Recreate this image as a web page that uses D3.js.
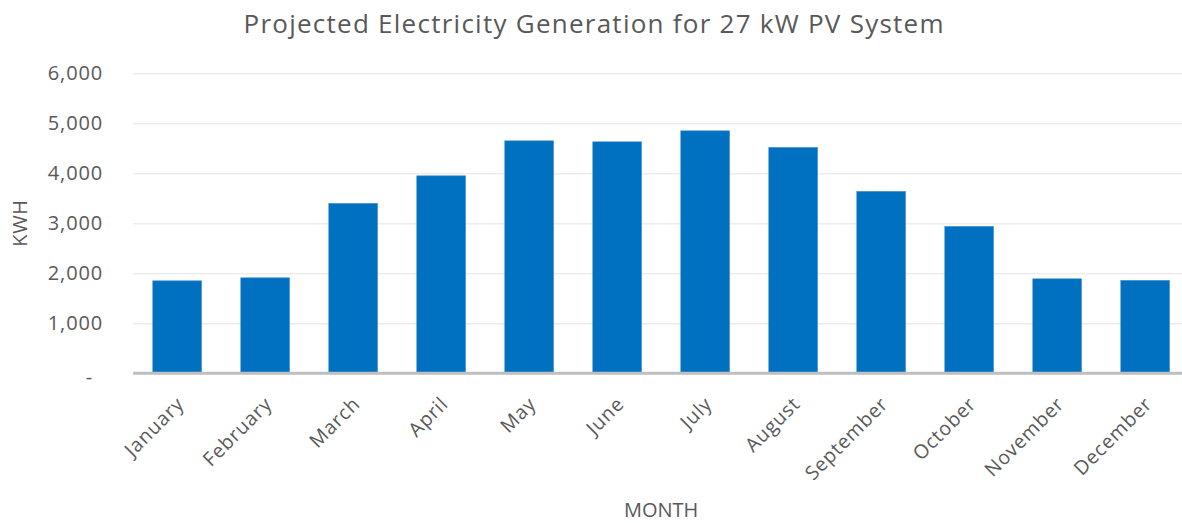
<!DOCTYPE html>
<html>
<head>
<meta charset="utf-8">
<script src="https://cdn.jsdelivr.net/npm/d3@7"></script>
<style>
  html, body { margin: 0; padding: 0; background: #fff; }
  svg { display: block; font-family: "Open Sans", sans-serif; }
</style>
</head>
<body>
<svg id="chart" width="1182" height="523"></svg>
<script>
const months = ["January", "February", "March", "April", "May", "June",
  "July", "August", "September", "October", "November", "December"];
const kwh = [1850, 1910, 3400, 3950, 4650, 4630, 4850, 4520, 3640, 2940, 1890, 1860];
const yTicks = [0, 1000, 2000, 3000, 4000, 5000, 6000];

const svg = d3.select("#chart");
const textColor = "#595959";

// plot area (right edge runs slightly past the window, as in the reference)
const plot = { left: 133.2, right: 1189.2, top: 73.3, bottom: 373.3 };

const x = d3.scaleBand().domain(months).range([plot.left, plot.right])
  .paddingInner(0.8 / 1.8).paddingOuter(0.4 / 1.8);
const y = d3.scaleLinear().domain([0, 6000]).range([plot.bottom, plot.top]);

// ---- Title ----
svg.append("text")
  .attr("x", 593.5).attr("y", 32.5)
  .attr("text-anchor", "middle")
  .attr("fill", textColor)
  .attr("font-size", 26)
  .attr("textLength", 700).attr("lengthAdjust", "spacing")
  .text("Projected Electricity Generation for 27 kW PV System");

// ---- Y axis with gridlines ----
const yAxis = svg.append("g")
  .attr("transform", `translate(${plot.left},0)`)
  .call(d3.axisLeft(y).tickValues(yTicks).tickSize(-(1182 - plot.left)).tickPadding(30)
    .tickFormat(d => d === 0 ? "-" : d3.format(",")(d)));
yAxis.select(".domain").remove();
yAxis.selectAll(".tick line").attr("stroke", "#ededed").attr("stroke-width", 1.5);
yAxis.selectAll(".tick text")
  .attr("fill", textColor).attr("font-size", 20)
  .attr("letter-spacing", 0.9)
  .attr("font-family", "'Open Sans', sans-serif");
yAxis.selectAll(".tick").filter(d => d === 0).select("text").attr("dx", -10).attr("dy", "0.5em");

// ---- Bars ----
svg.append("g")
  .selectAll("rect")
  .data(months.map((m, i) => ({ m, v: kwh[i] })))
  .join("rect")
  .attr("x", d => x(d.m))
  .attr("y", d => y(d.v))
  .attr("width", x.bandwidth())
  .attr("height", d => y(0) - y(d.v))
  .attr("fill", "#0070c0")
  .attr("stroke", "#4f95d2").attr("stroke-width", 0.6);

// ---- X axis ----
const xAxis = svg.append("g")
  .attr("transform", `translate(0,${plot.bottom})`)
  .call(d3.axisBottom(x).tickSize(0).tickPadding(0));
xAxis.select(".domain").remove();
xAxis.append("line")
  .attr("x1", plot.left).attr("x2", 1182)
  .attr("stroke", "#bfbfbf").attr("stroke-width", 3);
xAxis.selectAll(".tick text")
  .attr("fill", textColor).attr("font-size", 19.5)
  .attr("letter-spacing", 0.8)
  .attr("font-family", "'Open Sans', sans-serif")
  .attr("text-anchor", "end")
  .attr("dy", 0)
  .attr("transform", "translate(8,32) rotate(-45)");

// ---- Axis titles ----
svg.append("text")
  .attr("transform", "translate(27,223) rotate(-90)")
  .attr("text-anchor", "middle")
  .attr("fill", textColor).attr("font-size", 20)
  .attr("letter-spacing", 0.6)
  .text("KWH");

svg.append("text")
  .attr("x", (plot.left + plot.right) / 2).attr("y", 517)
  .attr("text-anchor", "middle")
  .attr("fill", textColor).attr("font-size", 20)
  .text("MONTH");
</script>
</body>
</html>
